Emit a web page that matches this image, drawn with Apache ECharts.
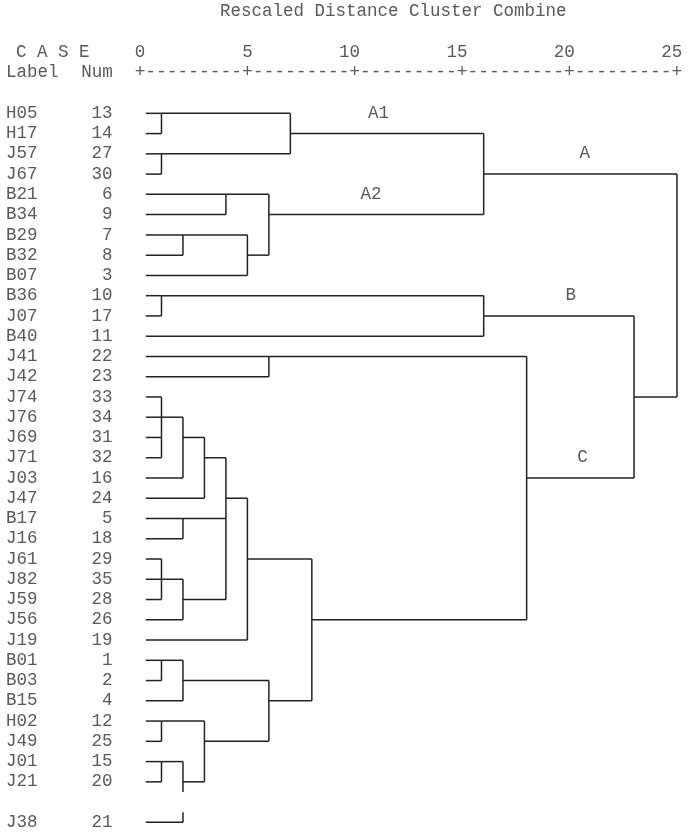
<!DOCTYPE html>
<html><head><meta charset="utf-8">
<script src="https://cdn.jsdelivr.net/npm/echarts@6/dist/echarts.min.js"></script>
<style>html,body{margin:0;padding:0;background:#fff}#c{width:689px;height:834px}</style>
</head><body><div id="c"></div>
<script>
// ---- data ----
const caseLabels = ['H05','H17','J57','J67','B21','B34','B29','B32','B07','B36','J07','B40','J41','J42',
  'J74','J76','J69','J71','J03','J47','B17','J16','J61','J82','J59','J56','J19','B01','B03','B15',
  'H02','J49','J01','J21','','J38'];
const caseNums = [13,14,27,30,6,9,7,8,3,10,17,11,22,23,33,34,31,32,16,24,5,18,29,35,28,26,19,1,2,4,12,25,15,20,'',21];
const tickLabels = ['0','5','10','15','20','25'];
// each merge: rows of the joined clusters, rescaled distance, row on which the new cluster continues
const mergeChildren = [[0,1],[2,3],[0,2],[4,5],[6,7],[6,8],[4,7],[1,5],[9,10],[9,11],[12,13],
  [14,15,16,17],[15,18],[16,19],[20,21],[22,23,24],[23,25],[17,20,24],[19,26],[27,28],[27,29],
  [30,31],[32,33],[32,35],[30,33],[28,31],[22,29],[12,25],[10,18],[3,14]];
const mergeDistance = [1,1,7,4,2,5,6,16,1,16,6,1,2,3,2,1,2,4,5,1,2,1,1,2,3,6,8,18,23,25];
const mergeOutRow = [0,2,1,4,6,7,5,3,9,10,12,15,16,17,20,23,24,19,22,27,28,30,32,33,31,29,25,18,14,null];
const clusterNames = ['A1','A2','A','B','C'];
const clusterDist = [11.1,10.75,20.7,20.05,20.6];
const clusterRow = [0,4,2,9,17];

// ---- styles ----
const FONT = '"Liberation Mono", "Courier New", monospace';
const FS = 17.5;
const TXT = '#5a5a5a';
const LINE = '#222';
const LEAF_START = 0.27;

// ---- build dendrogram segments from merges ----
const segs = [];
const start = caseLabels.map(l => l ? LEAF_START : null);
const blankRows = caseLabels.map((l, i) => l ? -1 : i).filter(i => i >= 0);
mergeChildren.forEach((ch, k) => {
  const d = mergeDistance[k];
  ch.forEach(r => segs.push([start[r], r, d, r]));
  const lo = Math.min(...ch), hi = Math.max(...ch);
  let y0 = lo;
  blankRows.filter(b => b > lo && b < hi).forEach(b => { segs.push([d, y0, d, b - 0.5]); y0 = b + 0.5; });
  segs.push([d, y0, d, hi]);
  if (mergeOutRow[k] !== null) start[mergeOutRow[k]] = d;
});
const clusterData = clusterNames.map((n, i) => [clusterDist[i], clusterRow[i], n]);

// pixel of a (possibly fractional) row on the category axis
function rowPx(api, r) {
  const f = Math.floor(r);
  const a = api.coord([0, f])[1];
  const b = api.coord([0, f + 1])[1];
  return a + (r - f) * (b - a);
}

const chart = echarts.init(document.getElementById('c'));
const option = {
  animation: false,
  backgroundColor: '#fff',
  grid: { left: 140, right: 12, top: 103.2, bottom: 1.5, containLabel: false, outerBoundsMode: 'none' },
  xAxis: {
    type: 'value', position: 'top', min: 0, max: 25, interval: 5,
    axisLine: { show: false }, axisTick: { show: false }, splitLine: { show: false },
    axisLabel: {
      margin: 42, showMinLabel: true, showMaxLabel: true,
      fontFamily: FONT, fontSize: FS, color: TXT,
      formatter: v => { const s = tickLabels[Math.round(v / 5)]; return s + ' '.repeat(s.length - 1); }
    }
  },
  yAxis: {
    type: 'category', inverse: true, data: caseLabels.map((l, i) => String(i)),
    axisLine: { show: false }, axisTick: { show: false }, splitLine: { show: false },
    axisLabel: {
      interval: 0, margin: 134, align: 'left',
      fontFamily: FONT, fontSize: FS, color: TXT,
      formatter: (v, i) => caseLabels[i] ? '{a|' + caseLabels[i] + '}{b|' + caseNums[i] + '}' : '',
      rich: {
        a: { width: 70, align: 'left', fontFamily: FONT, fontSize: FS, color: TXT },
        b: { width: 36.5, align: 'right', fontFamily: FONT, fontSize: FS, color: TXT }
      }
    }
  },
  series: [
    {
      type: 'custom', data: segs.map(s => [s[0], Math.round(s[1]), s[2], Math.round(s[3])]),
      encode: { x: [0, 2], y: [1, 3] }, silent: true,
      renderItem: (params, api) => {
        const s = segs[params.dataIndex];
        const x1 = api.coord([s[0], 0])[0], x2 = api.coord([s[2], 0])[0];
        const y1 = rowPx(api, s[1]), y2 = rowPx(api, s[3]);
        return { type: 'line', shape: { x1, y1, x2, y2 },
          style: { stroke: LINE, lineWidth: 1.5 } };
      }
    },
    {
      type: 'custom', data: clusterData, encode: { x: 0, y: 1 }, silent: true,
      renderItem: (params, api) => {
        const i = params.dataIndex;
        const x = api.coord([clusterDist[i], 0])[0];
        const y = rowPx(api, clusterRow[i]);
        return { type: 'text', x, y,
          style: { text: clusterNames[i], fill: TXT, fontFamily: FONT, fontSize: FS,
            align: 'center', verticalAlign: 'middle' } };
      }
    }
  ]
};
chart.setOption(option);

// headers and the +----+ ruler as text
const x0 = chart.convertToPixel({ xAxisIndex: 0 }, 0);
const x25 = chart.convertToPixel({ xAxisIndex: 0 }, 25);
const rulerStr = tickLabels.map(() => '+').join('-'.repeat(9));
const cw = (x25 - x0) / (rulerStr.length - 1);
const txt = (text, x, y, align, fs) => ({ type: 'text', x, y, silent: true,
  style: { text, fill: TXT, fontFamily: FONT, fontSize: fs || FS, align: align || 'left', verticalAlign: 'middle' } });
chart.setOption({
  graphic: [
    txt('Rescaled Distance Cluster Combine', 220, 11),
    txt('C A S E', 16, 52),
    txt('Label', 6, 72),
    txt('Num', 112.7, 72, 'right'),
    txt(rulerStr, x0 - cw / 2, 72, 'left', cw / 0.6)
  ]
});
</script></body></html>
